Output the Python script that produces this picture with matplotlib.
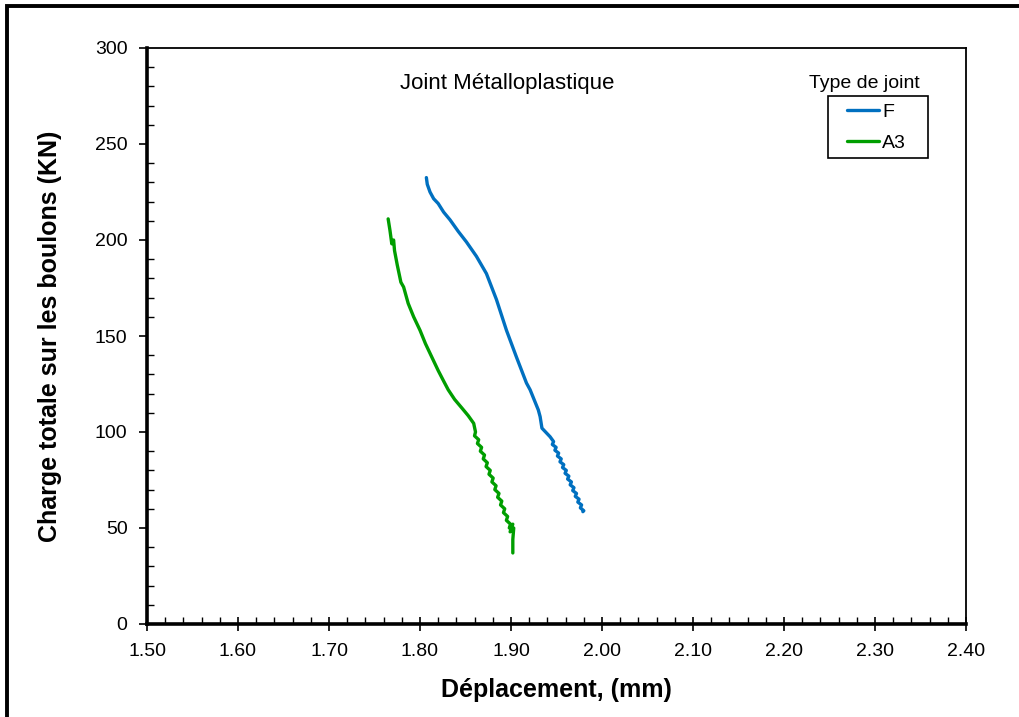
import matplotlib.pyplot as plt
from matplotlib.patches import Rectangle
from matplotlib.ticker import MultipleLocator, FormatStrFormatter

plt.rcParams['font.family'] = ['Liberation Sans', 'DejaVu Sans']

# series F (blue): displacement (mm), load (kN)
f_x = [1.807, 1.808, 1.811, 1.815, 1.820, 1.826, 1.833, 1.842, 1.851, 1.862,
       1.873, 1.884, 1.895, 1.906, 1.917, 1.921, 1.927, 1.930, 1.932, 1.934,
       1.938, 1.943,
       1.9468, 1.9454, 1.9496, 1.9482, 1.9524, 1.9510, 1.9552, 1.9538, 1.9580, 1.9566,
       1.9608, 1.9594, 1.9636, 1.9622, 1.9664, 1.9650, 1.9692, 1.9678, 1.9720, 1.9706,
       1.9748, 1.9734, 1.9776, 1.9762, 1.9800, 1.9790]
f_y = [232.5, 229, 225, 221.5, 219, 214.5, 210.5, 204.5, 199, 191.5,
       182.5, 169, 153, 139, 125.5, 122, 115, 111.5, 108, 102,
       100, 97.5,
       95, 93.5, 92, 90.5, 89, 87.5, 86, 84.5, 83, 81.5,
       80, 78.5, 77, 75.5, 74, 72.5, 71, 69.5, 68, 66.5,
       65, 63.5, 62, 60.5, 59, 58.5]

# series A3 (green)
a3_x = [1.765, 1.767, 1.769, 1.771, 1.772, 1.775, 1.779, 1.782, 1.787, 1.793,
        1.800, 1.806, 1.811, 1.816, 1.820, 1.826, 1.831, 1.838, 1.846, 1.853,
        1.859, 1.861,
        1.8599, 1.8645, 1.8631, 1.8677, 1.8663, 1.8709, 1.8695, 1.8740, 1.8726, 1.8772,
        1.8758, 1.8804, 1.8790, 1.8836, 1.8822, 1.8868, 1.8853, 1.8899, 1.8885, 1.8931,
        1.8917, 1.8963, 1.8949, 1.8995, 1.8981, 1.9020, 1.8990, 1.9030, 1.9020, 1.9020]
a3_y = [211, 205, 198, 200, 194.5, 187, 178, 175.5, 167, 160,
        153, 146, 141, 136, 132, 126.5, 122, 117, 112.5, 108.5,
        104.5, 100,
        98, 96, 94, 92, 90, 88, 86, 84, 82, 80,
        78, 76, 74, 72, 70, 68, 66, 64, 62, 60,
        58, 56, 54, 52, 50, 52, 48, 50, 44, 37]

x_ticks = [1.5, 1.6, 1.7, 1.8, 1.9, 2.0, 2.1, 2.2, 2.3, 2.4]
y_ticks = [0, 50, 100, 150, 200, 250, 300]

W, H = 1019, 717
fig = plt.figure(figsize=(W / 100, H / 100), dpi=100)
ax = fig.add_axes([147 / W, 1 - 624 / H, 819 / W, 576 / H])

# outer chart frame (cut off at right and bottom)
fig.patches.append(Rectangle((7 / W, -0.5), 2.0, 0.5 + 1 - 6 / H, transform=fig.transFigure,
                             fill=False, edgecolor='black', linewidth=2.8, zorder=0))

ax.plot(f_x, f_y, color='#0070C0', lw=2.4, label='F', solid_capstyle='round', solid_joinstyle='round')
ax.plot(a3_x, a3_y, color='#009E00', lw=2.4, label='A3', solid_capstyle='round', solid_joinstyle='round')

ax.set_xlim(1.5, 2.4)
ax.set_ylim(0, 300)
ax.set_xticks(x_ticks)
ax.set_yticks(y_ticks)
ax.xaxis.set_major_formatter(FormatStrFormatter('%.2f'))
ax.xaxis.set_minor_locator(MultipleLocator(0.02))
ax.yaxis.set_minor_locator(MultipleLocator(10))
ax.tick_params(axis='x', which='major', direction='inout', length=10, width=1.2, labelsize=14, pad=9)
ax.tick_params(axis='x', which='minor', direction='in', length=5, width=1)
ax.tick_params(axis='y', which='major', direction='out', length=6, width=1.2, labelsize=14, pad=8)
ax.tick_params(axis='y', which='minor', direction='in', length=5, width=1)

for s in ['left', 'bottom']:
    ax.spines[s].set_linewidth(2.6)
for s in ['top', 'right']:
    ax.spines[s].set_linewidth(1.3)

ax.set_xlabel('Déplacement, (mm)', fontsize=18, fontweight='bold', labelpad=13)
ax.set_ylabel('Charge totale sur les boulons (KN)', fontsize=18, fontweight='bold', labelpad=24)

ax.text((507 - 147) / 819, (624 - 83) / 576, 'Joint Métalloplastique', transform=ax.transAxes,
        ha='center', va='center', fontsize=16)

# legend: title sits above the box, box drawn separately
fig.text(864 / W, 1 - 83 / H, 'Type de joint', ha='center', va='center', fontsize=14)
fig.patches.append(Rectangle((828 / W, 1 - 158 / H), 100 / W, 62 / H, transform=fig.transFigure,
                             fill=False, edgecolor='black', linewidth=1.2, zorder=5))
leg = ax.legend(loc='upper left', bbox_to_anchor=(847 / W, 1 - 103 / H),
                bbox_transform=fig.transFigure, fontsize=14, frameon=False,
                handlelength=1.65, handletextpad=0.15, borderpad=0,
                labelspacing=0.7, borderaxespad=0)

plt.savefig('out.png', dpi=100)
plt.close('all')
